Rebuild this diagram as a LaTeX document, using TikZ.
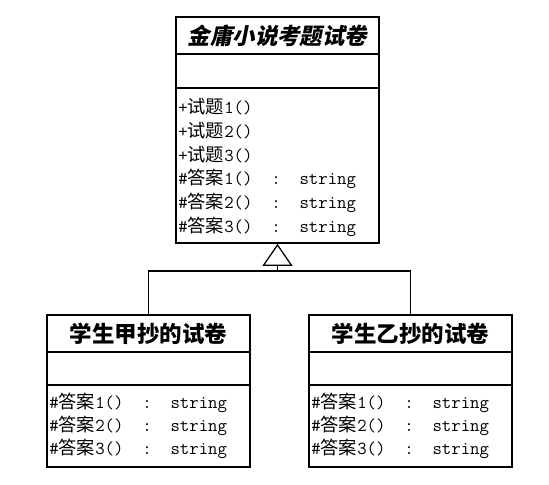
\documentclass[tikz,border=0pt]{standalone}
\usepackage{fontspec}
\newfontfamily\cjk{Noto Sans CJK SC}
\newfontfamily\cjkit[FakeSlant=0.2]{Noto Sans CJK SC}
\usetikzlibrary{arrows.meta}
\tikzset{
  classbox/.style={draw, line width=1.2pt, minimum width=5.075cm, inner sep=0pt},
  classname/.style={inner sep=0pt, font=\fontsize{16}{16}\selectfont\cjk\bfseries},
  member/.style={anchor=west, inner sep=0pt, font=\fontsize{13}{13}\selectfont\ttfamily},
  inherit/.style={line width=0.9pt, -{Triangle[open, length=0.55cm, width=0.75cm]}},
}
\newcommand{\question}[1]{+{\cjk 试题}#1()}
\newcommand{\answer}[1]{\#{\cjk 答案}#1()\ \ :\ \ string}

\begin{document}
\begin{tikzpicture}[x=0.025cm, y=-0.025cm]
  \useasboundingbox (0,0) rectangle (549,485);

  \node[classbox, minimum height=5.65cm] (exam) at (277.5,130) {};
  \draw[line width=1.2pt] (exam.north west) ++(0,38) -- +(203,0);
  \draw[line width=1.2pt] (exam.north west) ++(0,72) -- +(203,0);
  \node[classname, font=\fontsize{16}{16}\selectfont\cjkit\bfseries] (examname) at (277.5,36) {金庸小说考题试卷};
  \foreach \i in {1,2,3}
    \node[member] (q\i) at (178,82.5+24*\i) {\question{\i}};
  \foreach \i in {1,2,3}
    \node[member] (a\i) at (178,154.5+24*\i) {\answer{\i}};

  \node[classbox, minimum height=3.8cm] (copya) at (148.5,391) {};
  \draw[line width=1.2pt] (copya.north west) ++(0,38) -- +(203,0);
  \draw[line width=1.2pt] (copya.north west) ++(0,71) -- +(203,0);
  \node[classname] (copyaname) at (148.5,334) {学生甲抄的试卷};
  \foreach \i in {1,2,3}
    \node[member] (aa\i) at (49,380.3+22.7*\i) {\answer{\i}};

  \node[classbox, minimum height=3.8cm] (copyb) at (410.5,391) {};
  \draw[line width=1.2pt] (copyb.north west) ++(0,38) -- +(203,0);
  \draw[line width=1.2pt] (copyb.north west) ++(0,71) -- +(203,0);
  \node[classname] (copybname) at (410.5,334) {学生乙抄的试卷};
  \foreach \i in {1,2,3}
    \node[member] (ba\i) at (311,380.3+22.7*\i) {\answer{\i}};

  \coordinate (joint) at (277.5,271);
  \draw[line width=0.9pt] (copya.north) |- (joint) -| (copyb.north);
  \draw[inherit] (joint) -- (exam.south);
\end{tikzpicture}
\end{document}
